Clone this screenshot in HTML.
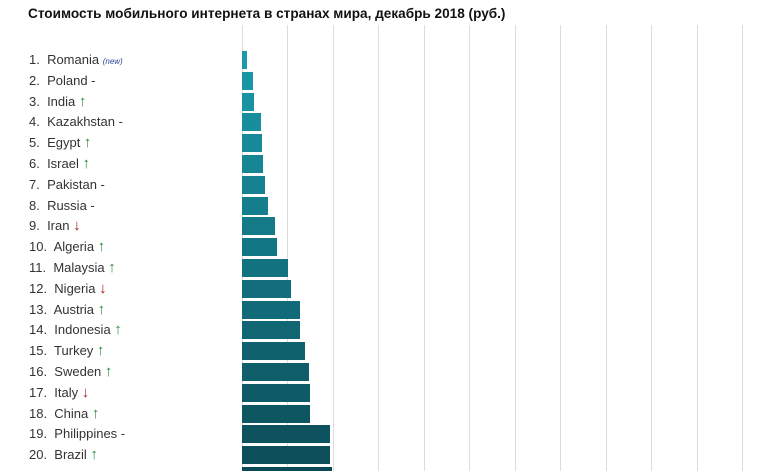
<!DOCTYPE html>
<html><head><meta charset="utf-8"><style>
html,body{margin:0;background:#fff;width:759px;height:471px;overflow:hidden}
body{position:relative;font-family:"Liberation Sans","DejaVu Sans",sans-serif}
.t{position:absolute;left:28px;top:6px;font-size:13.6px;font-weight:bold;color:#111}
.g{position:absolute;top:25px;height:446px;width:1px;background:#dcdcdc;z-index:0}
.b{position:absolute;left:242px;height:18px;z-index:2}
.l{position:absolute;left:29px;font-size:13px;color:#333;white-space:nowrap;line-height:16px}
.u{color:#2a8a3a;font-size:15px}.d{color:#a01c1c;font-size:15px}
.n{font-size:8px;font-style:italic;color:#2a4a9a}
</style></head><body>
<div class="t">Стоимость мобильного интернета в странах мира, декабрь 2018 (руб.)</div>
<div id="c"></div>
<script>
var c=document.getElementById('c'),h='';
[242,287,333,378,424,469,515,560,606,651,697,742].forEach(function(x){h+='<div class="g" style="left:'+x+'px"></div>'});
var d=[["Romania",' <span class="n">(new)</span>',247],["Poland"," -",253],["India",' <span class="u">↑</span>',254],["Kazakhstan"," -",261],["Egypt",' <span class="u">↑</span>',262],["Israel",' <span class="u">↑</span>',263],["Pakistan"," -",265],["Russia"," -",268],["Iran",' <span class="d">↓</span>',275],["Algeria",' <span class="u">↑</span>',277],["Malaysia",' <span class="u">↑</span>',288],["Nigeria",' <span class="d">↓</span>',291],["Austria",' <span class="u">↑</span>',300],["Indonesia",' <span class="u">↑</span>',300],["Turkey",' <span class="u">↑</span>',305],["Sweden",' <span class="u">↑</span>',309],["Italy",' <span class="d">↓</span>',310],["China",' <span class="u">↑</span>',310],["Philippines"," -",330],["Brazil",' <span class="u">↑</span>',330],["",'',332]];
d.forEach(function(r,i){
 var y=Math.round(51+i*20.8),f=i/20;
 var R=Math.round(26+(11-26)*f),G=Math.round(154+(74-154)*f),B=Math.round(170+(85-170)*f);
 var hh=(i==20)?(471-y):18;
 h+='<div class="b" style="top:'+y+'px;height:'+hh+'px;width:'+(r[2]-242)+'px;background:rgb('+R+','+G+','+B+')"></div>';
 if(r[0])h+='<div class="l" style="top:'+(y+1)+'px">'+(i+1)+'.&nbsp; '+r[0]+r[1]+'</div>';
});
c.innerHTML=h;
</script>
</body></html>
